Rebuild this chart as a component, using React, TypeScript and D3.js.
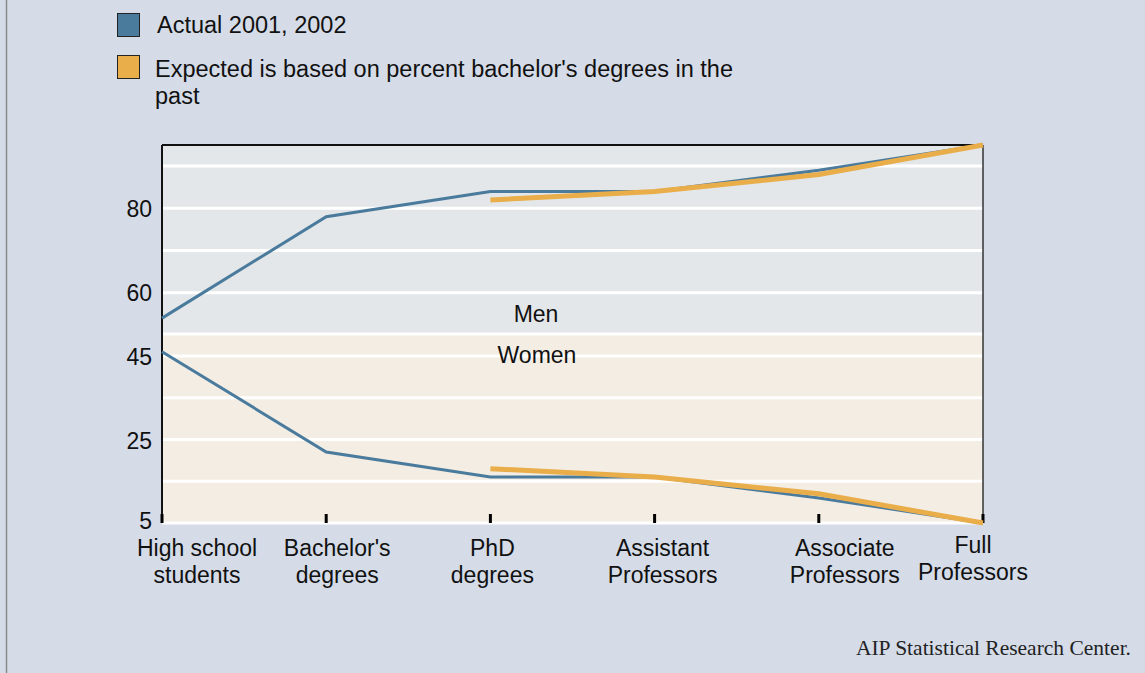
import React from "react";
import * as d3 from "d3";

const categories = ["High school students", "Bachelor's degrees", "PhD degrees", "Assistant Professors", "Associate Professors", "Full Professors"];
const categoryLines = [["High school", "students"], ["Bachelor's", "degrees"], ["PhD", "degrees"], ["Assistant", "Professors"], ["Associate", "Professors"], ["Full", "Professors"]];
const menActual: (number | null)[] = [54, 78, 84, 84, 89, 95];
const menExpected: (number | null)[] = [null, null, 82, 84, 88, 95];
const womenActual: (number | null)[] = [46, 22, 16, 16, 11, 5];
const womenExpected: (number | null)[] = [null, null, 18, 16, 12, 5];
const menTicks = [80, 60];
const menGrid = [90, 80, 70, 60, 50];
const womenTicks = [45, 25, 5];
const womenGrid = [45, 35, 25, 15, 5];
const legendItems = [
  { label: ["Actual 2001, 2002"], color: "#4a7b9d" },
  { label: ["Expected is based on percent bachelor's degrees in the", "past"], color: "#e9ad4a" },
];

// layout constants
const W = 1145, H = 673;
const left = 162, right = 983, top = 145, mid = 335, bottom = 523;
const labelDx = [35, 11, 2, 8, 26, -10];
const labelDy = [0, 0, 0, 0, 0, -3];
const BLUE = "#4a7b9d";
const ORANGE = "#e9ad4a";
const FONT = "'Liberation Sans', Arial, Helvetica, sans-serif";

export default function App() {
  const x = d3.scalePoint<string>().domain(categories).range([left, right]);
  const yMen = d3.scaleLinear().domain([50, 95]).range([mid, top]);
  const yWomen = d3.scaleLinear().domain([5, 50]).range([bottom, mid]);

  const mkLine = (y: d3.ScaleLinear<number, number>) =>
    d3.line<number | null>()
      .defined((d) => d !== null)
      .x((_, i) => x(categories[i]) as number)
      .y((d) => y(d as number));

  const lm = mkLine(yMen);
  const lw = mkLine(yWomen);

  return (
    <svg width={W} height={H} style={{ position: "absolute", left: 0, top: 0, display: "block" }} fontFamily={FONT}>
      <rect x={0} y={0} width={W} height={H} fill="#d5dce8" />
      <line x1={6.5} x2={6.5} y1={0} y2={H} stroke="#8a8a8a" strokeWidth={1.5} />

      {/* legend */}
      {legendItems.map((it, i) => (
        <g key={i}>
          <rect x={117.5} y={13.5 + i * 42} width={22} height={23} fill={it.color} stroke="#222" strokeWidth={1} />
          {it.label.map((t, j) => (
            <text key={j} x={i === 0 ? 157 : 155} y={33 + i * 44 + j * 27} fontSize={23.5} fill="#111">{t}</text>
          ))}
        </g>
      ))}

      {/* panels */}
      <rect x={left} y={top} width={right - left} height={mid - top} fill="#e3e7e9" />
      <rect x={left} y={mid} width={right - left} height={bottom - mid} fill="#f3ede4" />

      {menGrid.map((v) => (
        <line key={"mg" + v} x1={left} x2={right} y1={yMen(v) - (v === 50 ? 1 : 0)} y2={yMen(v) - (v === 50 ? 1 : 0)} stroke="#fff" strokeWidth={3} />
      ))}
      {womenGrid.map((v) => (
        <line key={"wg" + v} x1={left} x2={right} y1={yWomen(v)} y2={yWomen(v)} stroke="#fff" strokeWidth={3} />
      ))}

      {/* frame */}
      <line x1={left} x2={right} y1={top} y2={top} stroke="#111" strokeWidth={2} />
      <line x1={left} x2={left} y1={top} y2={bottom} stroke="#111" strokeWidth={2} />
      <line x1={right} x2={right} y1={top} y2={bottom} stroke="#333" strokeWidth={1.5} />

      {/* x ticks */}
      {categories.map((c) => (
        <line key={"t" + c} x1={x(c)} x2={x(c)} y1={514} y2={bottom} stroke="#000" strokeWidth={3} />
      ))}

      {/* y tick labels */}
      {menTicks.map((v) => (
        <text key={"mt" + v} x={152} y={yMen(v)} dy="0.36em" textAnchor="end" fontSize={23} fill="#111">{v}</text>
      ))}
      {womenTicks.map((v) => (
        <text key={"wt" + v} x={152} y={yWomen(v) + (v === 5 ? -2 : 1)} dy="0.36em" textAnchor="end" fontSize={23} fill="#111">{v}</text>
      ))}

      {/* lines */}
      <path d={lm(menActual) || ""} fill="none" stroke={BLUE} strokeWidth={3} />
      <path d={lw(womenActual) || ""} fill="none" stroke={BLUE} strokeWidth={3} />
      <path d={lm(menExpected) || ""} fill="none" stroke={ORANGE} strokeWidth={5} />
      <path d={lw(womenExpected) || ""} fill="none" stroke={ORANGE} strokeWidth={5} />

      {/* panel labels */}
      <text x={536} y={322} textAnchor="middle" fontSize={23} fill="#111">Men</text>
      <text x={537} y={363} textAnchor="middle" fontSize={23} fill="#111">Women</text>

      {/* x labels */}
      {categories.map((c, i) => (
        <g key={"xl" + c}>
          {categoryLines[i].map((t, j) => (
            <text key={j} x={(x(c) as number) + labelDx[i]} y={556 + labelDy[i] + j * 27} textAnchor="middle" fontSize={23} fill="#111">{t}</text>
          ))}
        </g>
      ))}

      <text x={1131} y={655} textAnchor="end" fontSize={21.5} fontFamily="'Liberation Serif', 'Times New Roman', serif" fill="#222">AIP Statistical Research Center.</text>
    </svg>
  );
}
